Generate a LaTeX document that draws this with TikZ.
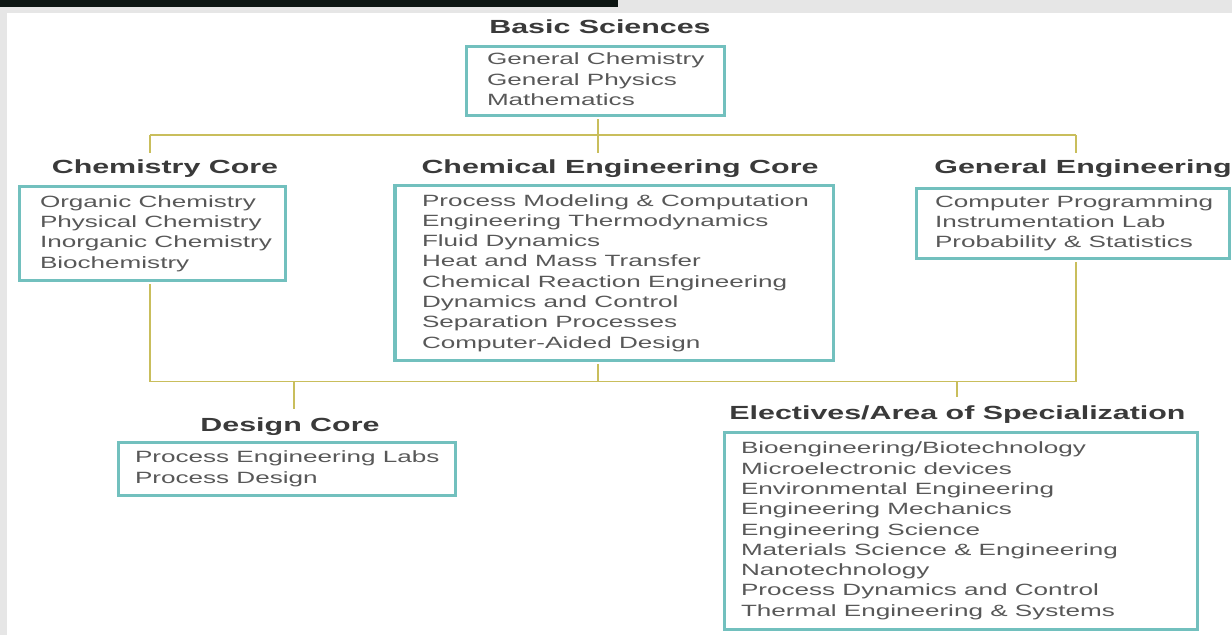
\documentclass[tikz,border=0pt]{standalone}
\usepackage{fontspec}
\setmainfont{Liberation Sans}[FakeStretch=1.6]
\usepackage{tikz}

\definecolor{boxteal}{HTML}{72C0BE}
\definecolor{linkolive}{HTML}{C9BE5C}
\definecolor{bodygrey}{HTML}{585858}
\definecolor{headgrey}{HTML}{3A3A3A}
\definecolor{pagegrey}{HTML}{E6E6E6}
\definecolor{topbar}{HTML}{0C1512}

% list of courses, set flush left in a box of given width
\newcommand{\courselist}[2]{\makebox[#1][l]{\begin{tabular}{@{}l@{}}#2\end{tabular}}}

\begin{document}
\begin{tikzpicture}[x=1pt, y=-1pt,
    listbox/.style={draw=boxteal, line width=3.5pt, fill=white, text=bodygrey,
      font=\fontsize{16.3}{20.3}\selectfont, inner ysep=0pt},
    heading/.style={anchor=base, inner sep=0pt, text=headgrey,
      font=\fontsize{19}{22}\selectfont\bfseries},
    link/.style={draw=linkolive, line width=1.8pt}]

    % Page
    \useasboundingbox (0,0) rectangle (1232,635);
    \fill[pagegrey] (0,0) rectangle (1232,635);
    \fill[white] (7,13) rectangle (1232,635);
    \fill[topbar] (0,0) rectangle (618,7);

    % Headings
    \node[heading] (basichead) at (600,33) {Basic Sciences};
    \node[heading] (chemcorehead) at (165,173) {Chemistry Core};
    \node[heading] (chemenghead) at (620,173) {Chemical Engineering Core};
    \node[heading] (genenghead) at (1083,173) {General Engineering};
    \node[heading] (designhead) at (290,431) {Design Core};
    \node[heading] (electhead) at (957.5,419) {Electives/Area of Specialization};

    % Boxes
    \node[listbox, inner xsep=20.5pt, minimum height=69pt] (basic) at (595.5,81)
        {\courselist{217pt}{General Chemistry\\General Physics\\Mathematics}};
    \node[listbox, inner xsep=20.5pt, minimum height=94pt] (chemcore) at (152.5,233.5)
        {\courselist{225pt}{Organic Chemistry\\Physical Chemistry\\Inorganic Chemistry\\Biochemistry}};
    \node[listbox, inner xsep=27pt, minimum height=175pt] (chemeng) at (614.25,273)
        {\courselist{384.5pt}{Process Modeling \& Computation\\Engineering Thermodynamics\\Fluid Dynamics\\
         Heat and Mass Transfer\\Chemical Reaction Engineering\\Dynamics and Control\\
         Separation Processes\\Computer-Aided Design}};
    \node[listbox, inner xsep=18.5pt, minimum height=70pt] (geneng) at (1073,223.5)
        {\courselist{276pt}{Computer Programming\\Instrumentation Lab\\Probability \& Statistics}};
    \node[listbox, inner xsep=16.5pt, minimum height=53pt] (design) at (287,469)
        {\courselist{304pt}{Process Engineering Labs\\Process Design}};
    \node[listbox, inner xsep=16.5pt, minimum height=197pt] (elect) at (961,531)
        {\courselist{440pt}{Bioengineering/Biotechnology\\Microelectronic devices\\Environmental Engineering\\
         Engineering Mechanics\\Engineering Science\\Materials Science \& Engineering\\
         Nanotechnology\\Process Dynamics and Control\\Thermal Engineering \& Systems}};

    % Connectors
    \coordinate (topL) at (150,135);
    \coordinate (topM) at (598,135);
    \coordinate (topR) at (1076,135);
    \coordinate (botL) at (150,381.5);
    \coordinate (botM) at (598,381.5);
    \coordinate (botR) at (1076,381.5);
    \coordinate (botD) at (294,381.5);
    \coordinate (botE) at (957,381.5);

    \draw[link] (topL) -- (topR);
    \draw[link, shorten <=1.75pt] (basic.south -| topM) -- (topM) -- ++(0,18);
    \draw[link] (topL) -- ++(0,18);
    \draw[link] (topR) -- ++(0,18);
    \draw[link, shorten <=1.75pt, shorten >=1.75pt] (chemcore.south -| botL) -- (botL) -- (botR) -- (geneng.south -| botR);
    \draw[link, shorten <=1.75pt] (chemeng.south -| botM) -- (botM);
    \draw[link] (botD) -- ++(0,27.5);
    \draw[link] (botE) -- ++(0,15.5);
\end{tikzpicture}
\end{document}
